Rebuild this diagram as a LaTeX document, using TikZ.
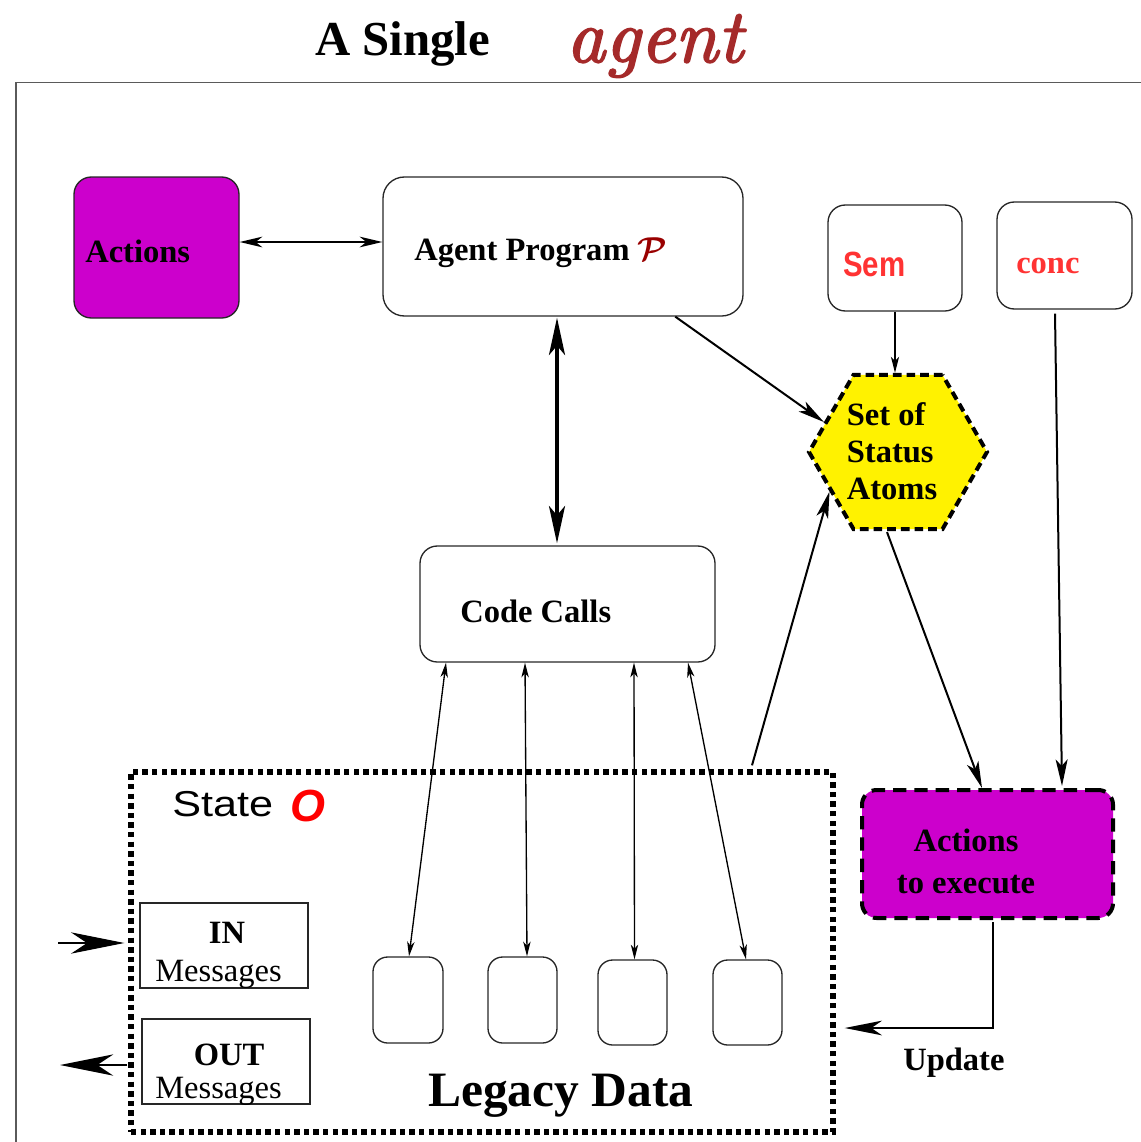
\documentclass[tikz,border=0pt]{standalone}
\usepackage{fontspec}
\usepackage{graphicx}
\setmainfont{Liberation Serif}
\newfontfamily\sansf{Liberation Sans}
\newfontfamily\agentfont[FakeBold=2.2]{lmroman10-italic.otf}
\usetikzlibrary{arrows.meta,shapes.geometric,calc}
\definecolor{mag}{RGB}{204,0,204}
\definecolor{agentred}{RGB}{165,42,42}
\definecolor{semred}{RGB}{255,51,51}
\definecolor{pred}{RGB}{153,0,0}
\definecolor{framegray}{RGB}{90,90,90}
\def\pxu{0.75pt}
\tikzset{
  tipA/.tip={Stealth[length=11pt,width=5.5pt,inset=3pt]},
  tipB/.tip={Stealth[length=17pt,width=8pt,inset=5pt]},
  tipC/.tip={Stealth[length=20pt,width=9pt,inset=5pt]},
  tipD/.tip={Stealth[length=28pt,width=12pt,inset=7pt]},
  tipE/.tip={Stealth[length=40pt,width=16pt,inset=12pt]},
  tipF/.tip={Stealth[length=28pt,width=11pt,inset=8pt]},
  tipG/.tip={Stealth[length=12pt,width=6pt,inset=3pt]},
  boxnode/.style={draw=black!85, line width=1pt, inner sep=0, rounded corners=13pt},
  magbox/.style={boxnode, fill=mag},
  txb/.style={inner sep=0, font=\fontsize{24.4pt}{29pt}\selectfont\bfseries},
  txr/.style={inner sep=0, font=\fontsize{24.4pt}{29pt}\selectfont},
  thinline/.style={line width=1pt, black},
  medline/.style={line width=1.5pt, black},
}
\begin{document}
\begin{tikzpicture}[x=0.75pt,y=-0.75pt]
\useasboundingbox (0,0) rectangle (1141,1142);
% outer frame
\draw[framegray, line width=1.1pt] (16,1142) -- (16,82.5) -- (1141,82.5);

% title
\node[anchor=base west, inner sep=0, font=\fontsize{36.6pt}{40pt}\selectfont\bfseries] (title) at (315,55) {A Single};
\node[anchor=base west, inner sep=0, text=agentred, font=\fontsize{57pt}{60pt}\agentfont] (titleagent) at (566,62) {agent};

% boxes
\node[magbox, minimum width=165*\pxu, minimum height=141*\pxu] (act) at (156.5,247.5) {};
\node[boxnode, rounded corners=16pt, minimum width=360*\pxu, minimum height=139*\pxu] (ap) at (563,246.5) {};
\node[boxnode, minimum width=134*\pxu, minimum height=106*\pxu] (sem) at (895,258) {};
\node[boxnode, minimum width=135*\pxu, minimum height=107*\pxu] (conc) at (1064.5,255.5) {};
\node[regular polygon, regular polygon sides=6, minimum size=178*\pxu, inner sep=0,
      fill=yellow, draw=black, line width=3pt, dash pattern=on 6.5pt off 3.75pt] (hex) at (898,452) {};
\node[boxnode, minimum width=295*\pxu, minimum height=116*\pxu] (cc) at (567.5,604) {};
\node[magbox, draw=black, line width=3pt, dash pattern=on 10pt off 6pt, rounded corners=11pt,
      minimum width=251*\pxu, minimum height=128*\pxu] (ate) at (987.5,854) {};
\node[draw=black, line width=4pt, dash pattern=on 4pt off 3.2pt, inner sep=0,
      minimum width=702*\pxu, minimum height=360*\pxu] (state) at (482,952) {};
\node[draw=black!85, line width=1pt, inner sep=0, minimum width=168*\pxu, minimum height=85*\pxu] (inbox) at (224,945.5) {};
\node[draw=black!85, line width=1pt, inner sep=0, minimum width=168*\pxu, minimum height=85*\pxu] (outbox) at (226,1061.5) {};
\node[boxnode, rounded corners=11pt, minimum width=70*\pxu, minimum height=86*\pxu] (L1) at (408,1000) {};
\node[boxnode, rounded corners=11pt, minimum width=69*\pxu, minimum height=86*\pxu] (L2) at (522.5,1000) {};
\node[boxnode, rounded corners=11pt, minimum width=69*\pxu, minimum height=85*\pxu] (L3) at (632.5,1002.5) {};
\node[boxnode, rounded corners=11pt, minimum width=69*\pxu, minimum height=85*\pxu] (L4) at (747.5,1002.5) {};

% texts
\node[txb, anchor=base west] (acttext) at (85,262) {Actions};
\node[txb, anchor=base west] (aptext) at (414,260) {Agent Program \textcolor{pred}{\boldmath$\mathcal{P}$}};
\node[anchor=base west, inner sep=0, text=semred, font=\fontsize{26.25pt}{30pt}\sansf\bfseries] (semtext) at (843,276.7) {\scalebox{0.84}[1]{Sem}};
\node[txb, anchor=base west, text=semred] (conctext) at (1016,273) {conc};
\node[txb, align=left, font=\fontsize{24.4pt}{27.75pt}\selectfont\bfseries] (hextext) at (892,451) {Set of\\Status\\Atoms};
\node[txb, anchor=base west] (cctext) at (460,622) {Code Calls};
\node[txb, align=center, font=\fontsize{24.4pt}{31.5pt}\selectfont\bfseries] (atetext) at (966,861) {Actions\\to execute};
\node[txb, anchor=base west] (updtext) at (903,1070) {Update};
\node[anchor=base west, inner sep=0, font=\fontsize{27pt}{30pt}\sansf] (statetext) at (172,816) {\scalebox{1.2}[1]{State}};
\node[anchor=base west, inner sep=0, text=red, font=\fontsize{33.75pt}{36pt}\sansf\itshape] (otext) at (290,821.5) {\textbf{O}};
\node[txb, anchor=base] (intext) at (227,943) {IN};
\node[txr, anchor=base west] (inmsg) at (155,981) {Messages};
\node[txb, anchor=base] (outtext) at (229,1065) {OUT};
\node[txr, anchor=base west] (outmsg) at (155,1098) {Messages};
\node[anchor=base west, inner sep=0, font=\fontsize{37.1pt}{40pt}\selectfont\bfseries] (legtext) at (428,1106.5) {Legacy Data};

% connectors
\draw[thinline, tipB-tipB] ($(act.east)+(0,-5.5)$) -- ($(ap.west)+(0,-4.5)$);
\draw[line width=3pt, tipD-tipD] ($(ap.south)+(-6,1)$) -- ($(cc.north)+(-10.5,-2)$);
\draw[medline, -tipC] (ap.-32.8) -- (hex.158.8);
\draw[medline, -tipG] (sem.south) -- (sem.south |- hex.north);
\draw[medline, -tipC] ($(state.north)+(270,-4)$) -- (hex.210);
\draw[medline, -tipC] ($(hex.south)+(-11,1)$) -- ($(ate.north)+(-5.5,0)$);
\draw[medline, -tipC] ($(conc.south)+(-9.5,4)$) -- ($(ate.north)+(74.5,-2)$);
\draw[thinline, tipA-tipA] ($(cc.south)+(-121.5,0)$) -- ($(L1.north)+(1,0)$);
\draw[thinline, tipA-tipA] ($(cc.south)+(-42.5,0)$) -- ($(L2.north)+(4.5,0)$);
\draw[thinline, tipA-tipA] ($(cc.south)+(66.5,0)$) -- ($(L3.north)+(2,0)$);
\draw[thinline, tipA-tipA] ($(cc.south)+(120.5,0)$) -- ($(L4.north)+(-1.5,0)$);
\draw[medline, -tipF] ($(ate.south)+(5.5,2)$) |- ($(state.east)+(9,76)$);
\coordinate (inext) at (58,943);
\coordinate (outext) at (60,1065);
\draw[thinline, -tipE] (inext) -- ($(state.west)+(-4,-9)$);
\draw[thinline, -tipE] ($(state.west)+(-1,113)$) -- (outext);
\end{tikzpicture}
\end{document}
